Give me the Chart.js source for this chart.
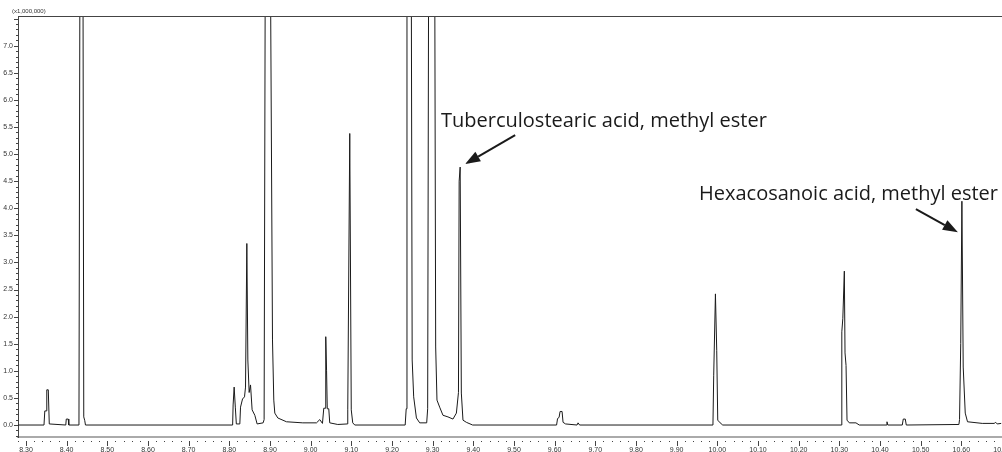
<!DOCTYPE html>
<html>
<head>
<meta charset="utf-8">
<script src="https://cdn.jsdelivr.net/npm/chart.js@4.4.1/dist/chart.umd.min.js"></script>
<style>
  html, body { margin: 0; padding: 0; background: #fff; }
</style>
</head>
<body>
<canvas id="tic" width="1002" height="452"></canvas>
<script>
// retention time (min) and intensity (x1,000,000)
const retTime = [
  8.280, 8.3442, 8.3462, 8.3499, 8.3511, 8.3548, 8.3572, 8.3978, 8.3990, 8.4039,
  8.4052, 8.4302, 8.4327, 8.4400, 8.4420, 8.4445, 8.4462, 8.8081, 8.8093, 8.8118,
  8.8147, 8.8172, 8.8258, 8.8275, 8.8324, 8.8373, 8.8398, 8.8430, 8.8455, 8.8487,
  8.8521, 8.8560, 8.8627, 8.8683, 8.8831, 8.8855, 8.8885, 8.9007, 8.9061, 8.9093,
  8.9118, 8.9192, 8.9405, 8.9806, 9.0143, 9.0224, 9.0290, 9.0322, 9.0354, 9.0371,
  9.0391, 9.0408, 9.0445, 9.0469, 9.0666, 9.0899, 9.0912, 9.0961, 9.0998, 9.1034,
  9.1084, 9.2324, 9.2349, 9.2368, 9.2472, 9.2496, 9.2533, 9.2600, 9.2681, 9.2853,
  9.2877, 9.2902, 9.3049, 9.3074, 9.3106, 9.3172, 9.3253, 9.3376, 9.3499, 9.3583,
  9.3634, 9.3651, 9.3676, 9.3705, 9.3745, 9.3828, 9.3983, 9.6047, 9.6071, 9.6108,
  9.6133, 9.6182, 9.6206, 9.6268, 9.6550, 9.6575, 9.6612, 9.9892, 9.9911, 9.9953,
  9.9985, 10.0010, 10.0069, 10.0133, 10.3049, 10.3061, 10.3086, 10.3123, 10.3140, 10.3165,
  10.3189, 10.3246, 10.3409, 10.3490, 10.4155, 10.4172, 10.4191, 10.4548, 10.4572, 10.4622,
  10.4646, 10.5940, 10.5956, 10.5985, 10.6014, 10.6046, 10.6096, 10.6152, 10.6514, 10.6808,
  10.6845, 10.6882, 10.6980
];
const intensity = [
  0, 0, 0.26, 0.26, 0.65, 0.65, 0.02, 0, 0.11, 0.11,
  0, 0, 9.0, 9.0, 0.15, 0.08, 0, 0, 0.37, 0.70,
  0.33, 0.02, 0.02, 0.33, 0.48, 0.52, 0.70, 3.35, 1.20, 0.60,
  0.74, 0.28, 0.18, 0.02, 0.04, 0.10, 9.0, 9.0, 1.57, 0.46,
  0.22, 0.13, 0.06, 0.04, 0.04, 0.10, 0.03, 0.31, 0.31, 1.63,
  1.00, 0.30, 0.30, 0.04, 0.01, 0.02, 0.28, 5.38, 0.28, 0.04,
  0, 0, 0.30, 9.0, 9.0, 1.20, 0.52, 0.13, 0.04, 0.04,
  0.30, 9.0, 9.0, 1.44, 0.46, 0.33, 0.18, 0.15, 0.11, 0.22,
  0.60, 4.50, 4.76, 0.59, 0.09, 0.05, 0, 0, 0.12, 0.14,
  0.25, 0.25, 0.05, 0.02, 0, 0.04, 0, 0, 0.92, 2.42,
  1.38, 0.09, 0.04, 0, 0, 1.72, 1.97, 2.84, 1.33, 1.10,
  0.09, 0.04, 0.04, 0, 0, 0.06, 0, 0, 0.11, 0.11,
  0, 0.01, 0.10, 1.50, 4.13, 1.07, 0.22, 0.06, 0.03, 0.03,
  0.05, 0.02, 0.03
];
const xTicks = [8.30, 8.40, 8.50, 8.60, 8.70, 8.80, 8.90, 9.00, 9.10, 9.20, 9.30, 9.40, 9.50,
  9.60, 9.70, 9.80, 9.90, 10.00, 10.10, 10.20, 10.30, 10.40, 10.50, 10.60, 10.70];
const yTicks = [0.0, 0.5, 1.0, 1.5, 2.0, 2.5, 3.0, 3.5, 4.0, 4.5, 5.0, 5.5, 6.0, 6.5, 7.0];

// labelled peaks
const peakNames = ["Tuberculostearic acid, methyl ester", "Hexacosanoic acid, methyl ester"];
const peakTimes = [9.3676, 10.6014];
const peakHeights = [4.76, 4.13];

const TICK_FONT = { family: "'Liberation Sans', Arial, sans-serif", size: 7 };

// frame, tick marks and the peak callouts
const decor = {
  id: "decor",
  afterDraw(chart) {
    const { ctx, chartArea: a } = chart;
    const x = chart.scales.x, y = chart.scales.y;
    ctx.save();
    ctx.strokeStyle = "#444";
    ctx.lineWidth = 1;
    ctx.beginPath();
    ctx.moveTo(a.left, a.top + 0.5);
    ctx.lineTo(a.right, a.top + 0.5);
    ctx.stroke();

    // y ticks every 0.1, long ones on the labels
    ctx.beginPath();
    for (let i = -2; i <= 75; i++) {
      const py = Math.round(y.getPixelForValue(i / 10)) + 0.5;
      if (py < a.top || py > a.bottom) continue;
      const len = i % 5 === 0 ? 4 : 2;
      ctx.moveTo(a.left - len, py);
      ctx.lineTo(a.left, py);
    }
    ctx.stroke();

    // x ticks every 0.02 min
    ctx.beginPath();
    for (let i = 414; i <= 535; i++) {
      const px = Math.round(x.getPixelForValue(i / 50)) + 0.5;
      if (px < a.left || px > a.right) continue;
      if (i % 5 === 0) {
        ctx.moveTo(px, a.bottom + 4);
        ctx.lineTo(px, a.bottom + 9);
      } else {
        ctx.moveTo(px, a.bottom + 4);
        ctx.lineTo(px, a.bottom + 5);
      }
    }
    ctx.stroke();

    ctx.fillStyle = "#333";
    ctx.font = "6px 'Liberation Sans', Arial, sans-serif";
    ctx.textBaseline = "middle";
    ctx.fillText("(x1,000,000)", 12, 11);

    // callouts: text + arrow (offsets in px from the peak apex)
    const callouts = [
      { tx: 441, ty: 127, from: [50, -29], tip: [5, -3] },
      { tx: 699, ty: 200, from: [-42, -23], tip: [-4, 31] },
    ];
    ctx.font = "20px 'Open Sans', sans-serif";
    ctx.textBaseline = "alphabetic";
    ctx.fillStyle = "#1a1a1a";
    ctx.strokeStyle = "#1a1a1a";
    peakNames.forEach((name, k) => {
      const c = callouts[k];
      ctx.fillText(name, c.tx, c.ty);
      const px = x.getPixelForValue(peakTimes[k]);
      const py = y.getPixelForValue(peakHeights[k]);
      const tipX = px + c.tip[0], tipY = py + c.tip[1];
      const fx = tipX + c.from[0], fy = tipY + c.from[1];
      const ang = Math.atan2(tipY - fy, tipX - fx);
      const hl = 15, hw = 5.5;
      const bx = tipX - hl * Math.cos(ang), by = tipY - hl * Math.sin(ang);
      ctx.lineWidth = 2;
      ctx.beginPath();
      ctx.moveTo(fx, fy);
      ctx.lineTo(bx, by);
      ctx.stroke();
      ctx.beginPath();
      ctx.moveTo(tipX, tipY);
      ctx.lineTo(bx + hw * Math.sin(ang), by - hw * Math.cos(ang));
      ctx.lineTo(bx - hw * Math.sin(ang), by + hw * Math.cos(ang));
      ctx.closePath();
      ctx.fill();
    });
    ctx.restore();
  }
};

new Chart(document.getElementById("tic"), {
  type: "line",
  data: {
    datasets: [{
      data: retTime.map((t, i) => ({ x: t, y: intensity[i] })),
      borderColor: "#1a1a1a",
      borderWidth: 1,
      pointRadius: 0,
      tension: 0,
      fill: false,
    }],
  },
  options: {
    responsive: false,
    animation: false,
    layout: { padding: { top: 16, left: 0, right: 0, bottom: 0 } },
    plugins: { legend: { display: false }, tooltip: { enabled: false } },
    scales: {
      x: {
        type: "linear",
        min: 8.2803,
        max: 10.70,
        afterBuildTicks: (s) => { s.ticks = xTicks.map((v) => ({ value: v })); },
        afterFit: (s) => { s.height = 15; s.paddingLeft = 0; s.paddingRight = 0; },
        grid: { drawOnChartArea: false, drawTicks: false },
        border: { color: "#aaa", width: 2 },
        ticks: {
          autoSkip: false,
          maxRotation: 0,
          padding: 9,
          color: "#333",
          font: TICK_FONT,
          callback: (v) => Number(v).toFixed(2),
        },
      },
      y: {
        min: -0.221,
        max: 7.548,
        afterBuildTicks: (s) => { s.ticks = yTicks.map((v) => ({ value: v })); },
        afterFit: (s) => { s.width = 18; s.paddingTop = 0; s.paddingBottom = 0; },
        grid: { drawOnChartArea: false, drawTicks: false },
        border: { color: "#444", width: 1 },
        ticks: {
          autoSkip: false,
          padding: 5,
          color: "#333",
          font: TICK_FONT,
          callback: (v) => Number(v).toFixed(1),
        },
      },
    },
  },
  plugins: [decor],
});
</script>
</body>
</html>
